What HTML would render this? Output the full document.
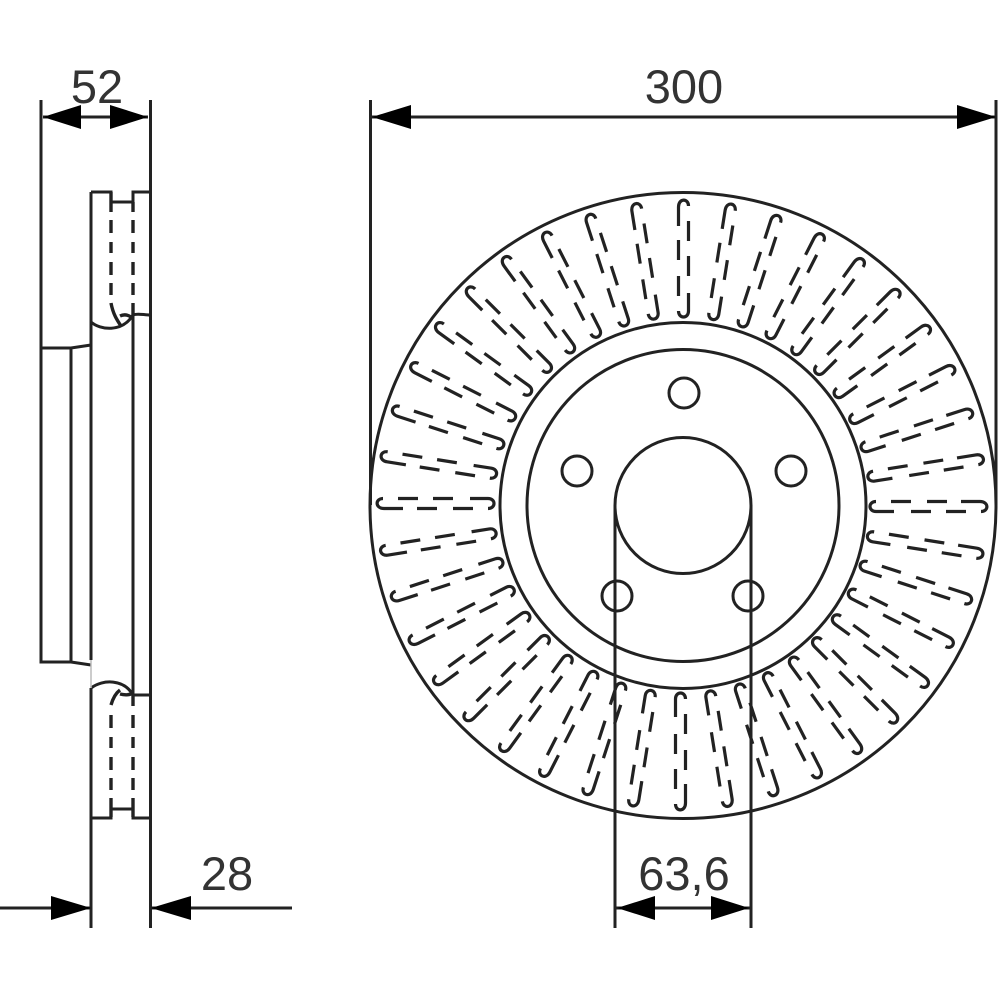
<!DOCTYPE html>
<html>
<head>
<meta charset="utf-8">
<style>
html,body{margin:0;padding:0;background:#fff;width:1000px;height:1000px;overflow:hidden}
svg{display:block}
text{font-family:"Liberation Sans",Arial,sans-serif;font-size:47px;fill:#333}
</style>
</head>
<body>
<svg width="1000" height="1000" viewBox="0 0 1000 1000" xmlns="http://www.w3.org/2000/svg">
<defs>
<g id="v" fill="none" stroke="#222" stroke-width="3.2">
<path d="M398 498.500H418M433 498.500H453M470 498.500H488C496 498.500 496 508.500 488 508.500"/>
<path d="M383 498.500C375 498.500 375 508.500 384 508.500H403M417 508.500H437M453 508.500H473"/>
</g>
<g id="a">
<use href="#v"/>
<use href="#v" transform="rotate(9 682 505)"/>
<use href="#v" transform="rotate(18 682 505)"/>
<use href="#v" transform="rotate(27 682 505)"/>
<use href="#v" transform="rotate(36 682 505)"/>
</g>
</defs>
<use href="#a"/>
<use href="#a" transform="rotate(45 682 505)"/>
<use href="#a" transform="rotate(90 682 505)"/>
<use href="#a" transform="rotate(135 682 505)"/>
<use href="#a" transform="rotate(180 682 505)"/>
<use href="#a" transform="rotate(225 682 505)"/>
<use href="#a" transform="rotate(270 682 505)"/>
<use href="#a" transform="rotate(315 682 505)"/>
<g fill="none" stroke="#222" stroke-width="3">
<circle cx="683" cy="505.500" r="313"/>
<circle cx="683" cy="505.500" r="183"/>
<circle cx="683" cy="505.500" r="156"/>
<circle cx="683" cy="505.500" r="68"/>
<circle cx="684" cy="393" r="15"/>
<circle cx="577" cy="471" r="15"/>
<circle cx="791" cy="471" r="15"/>
<circle cx="617" cy="596" r="15"/>
<circle cx="748" cy="596" r="15"/>
<path d="M370.500 100V505M996 100V505M615 505V928M751 505V928"/>
<path d="M372 117H996M615 908H751"/>
<path d="M41 100V662H71M71 348V662M41 348H71L91 345M71 662L91 665"/>
<path d="M150.500 100V928M91 192V660M91 688V928M133 315V695"/>
<path d="M91 192H111V202H133V192H150M91 818H111V809H133V818H150"/>
<path d="M91 322C100 330 122 333 133 315C137 313 144 315 150 315"/>
<path d="M91 688C103 679 124 679 133 695H150"/>
<path d="M43 117H148M0 908H91M151 908H292"/>
</g>
<g fill="none" stroke="#222" stroke-width="3.400">
<path d="M111 192V212M111 220V233M111 242V253M111 262V275M111 283V295M111 303C113 314 117 320 121 326M120 316C124 314 128 315 131 317"/>
<path d="M133 202V212M133 220V233M133 242V253M133 262V275M133 283V295M133 303V315"/>
<path d="M111 798V817M111 778V790M111 757V770M111 737V748M111 715V728M111 705C113 698 116 693 120 690M120 694C124 695 128 695 131 694"/>
<path d="M133 798V817M133 778V790M133 757V770M133 737V748M133 715V728M133 695V706"/>
</g>
<path d="M91 660V688" stroke="#bbb" stroke-width="1.500" fill="none"/>
<g fill="#000">
<path d="M43 117L81 105V129ZM148 117L110 105V129Z"/>
<path d="M372 117L411 105V129ZM996 117L957 105V129Z"/>
<path d="M91 908L51 896V920ZM151 908L191 896V920Z"/>
<path d="M617 908L655 896V920ZM749 908L711 896V920Z"/>
</g>
<text x="97" y="103" text-anchor="middle">52</text>
<text x="684" y="103" text-anchor="middle">300</text>
<text x="227" y="890" text-anchor="middle">28</text>
<text x="684" y="890" text-anchor="middle">63,6</text>
</svg>
</body>
</html>
